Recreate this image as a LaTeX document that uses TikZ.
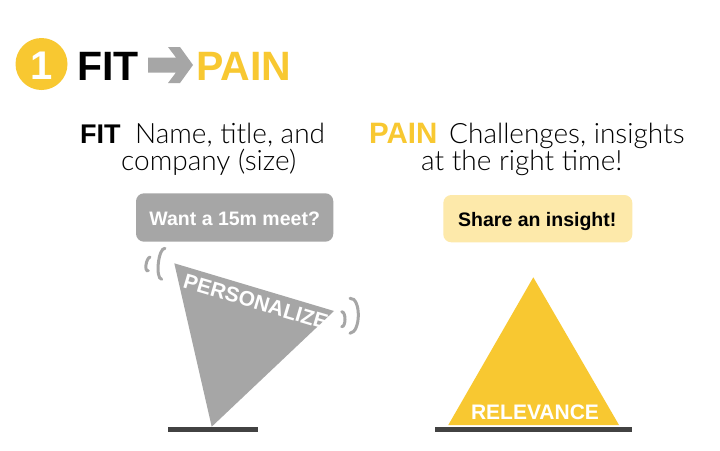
\documentclass[tikz,border=0pt]{standalone}
\usepackage{fontspec}
\setmainfont{Liberation Sans}
\newfontfamily\lightf{Lato Light}
\definecolor{ylw}{HTML}{F8C831}
\definecolor{lylw}{HTML}{FDE9AA}
\definecolor{gry}{HTML}{A6A6A6}
\definecolor{dgry}{HTML}{424242}
\tikzset{
  txt/.style={anchor=base west, inner sep=0pt},
  wave/.style={draw=gry, line width=3pt, line cap=round},
  basebar/.style={fill=dgry},
}
\newcommand{\fs}[1]{\fontsize{#1}{#1}\selectfont}
\begin{document}
\begin{tikzpicture}[x=1pt,y=-1pt]
\useasboundingbox[fill=white] (0,0) rectangle (720,450);
% title
\fill[ylw] (41.5,64) circle (26);
\node[anchor=base, inner sep=0pt, text=white] (one) at (41.5,79.5) {\fs{40}\bfseries 1};
\node[txt] (fittitle) at (77,80) {\fs{41}\bfseries FIT};
\fill[gry] (148,57.5) -- (176,57.5) -- (168,47) -- (180,47) -- (193,65) -- (180,83) -- (168,83) -- (176,72.5) -- (148,72.5) -- cycle;
\node[txt, text=ylw] (paintitle) at (196,80) {\fs{41}\bfseries PAIN};
% FIT text
\node[txt] (fit) at (80,143.3) {\fs{27}\bfseries FIT};
\node[txt] (fitl1) at (135,143.3) {\fs{28}\lightf Name, title, and};
\node[txt] (fitl2) at (121,170) {\fs{28}\lightf company (size)};
% PAIN text
\node[txt, text=ylw] (pain) at (369,143.3) {\fs{29.5}\bfseries PAIN};
\node[txt] (painl1) at (449,143.3) {\fs{28}\lightf Challenges, insights};
\node[txt] (painl2) at (421,170) {\fs{28}\lightf at the right time!};
% boxes
\fill[gry, rounded corners=8pt] (136,193.3) rectangle (333.3,241.7);
\node[anchor=base, inner sep=0pt, text=white] (meet) at (234.7,225.7) {\fs{19.5}\bfseries Want a 15m meet?};
\fill[lylw, rounded corners=8pt] (443.3,195) rectangle (632.3,242.3);
\node[anchor=base, inner sep=0pt] (insight) at (537.3,226.7) {\fs{19.5}\bfseries Share an insight!};
% tilted triangle
\fill[gry] (174.3,263.3) -- (334,311) -- (211.7,426.7) -- cycle;
\fill[basebar] (168,427) rectangle (258,432);
\node[txt, text=white, rotate=-16.5] (pers) at (182,287.5) {\fs{21}\bfseries PERSONALIZE};
\draw[wave] (150,257) .. controls (145.8,258.5) and (144.1,272.2) .. (148.3,270.7);
\draw[wave] (165,248.3) .. controls (158.3,247.6) and (155,278.6) .. (161.7,279.3);
\draw[wave] (341.7,311.7) .. controls (346.1,311.8) and (346.1,326.8) .. (341.7,326.7);
\draw[wave] (350,298.3) .. controls (361.1,297.2) and (361.1,332.2) .. (350,333.3);
% relevance triangle
\fill[ylw] (533.3,277.3) -- (619,425) -- (448.3,425) -- cycle;
\fill[basebar] (435,427) rectangle (632,432);
\node[anchor=base, inner sep=0pt, text=white] (rel) at (535,419) {\fs{21}\bfseries RELEVANCE};
\end{tikzpicture}
\end{document}
